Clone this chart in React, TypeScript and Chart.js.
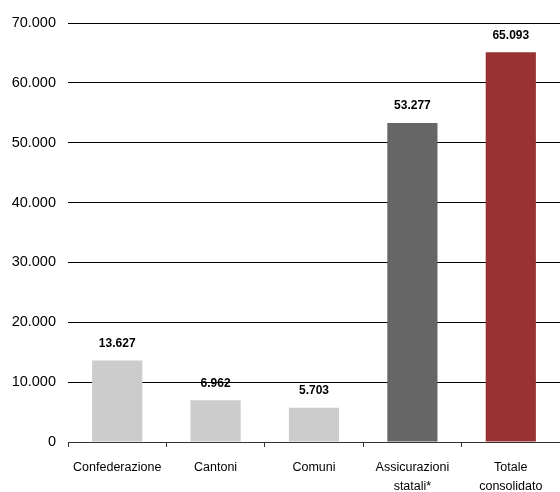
import React, { useEffect, useRef } from "react";
import { Chart, registerables } from "chart.js";

Chart.register(...registerables);

const categories: (string | string[])[] = [
  "Confederazione",
  "Cantoni",
  "Comuni",
  ["Assicurazioni", "statali*"],
  ["Totale", "consolidato"],
];
const values: number[] = [13627, 6962, 5703, 53277, 65093];
const barColors: string[] = ["#CCCCCC", "#CCCCCC", "#CCCCCC", "#666666", "#993333"];
const yMax = 70000;
const yStep = 10000;

const FONT = "'Liberation Sans', Arial, sans-serif";

const fmt = (v: number): string =>
  Math.round(v)
    .toString()
    .replace(/\B(?=(\d{3})+(?!\d))/g, ".");

const valueLabels = {
  id: "valueLabels",
  afterDatasetsDraw(chart: any) {
    const ctx = chart.ctx;
    const meta = chart.getDatasetMeta(0);
    ctx.save();
    ctx.font = `bold 12px ${FONT}`;
    ctx.fillStyle = "#000";
    ctx.textAlign = "center";
    ctx.textBaseline = "middle";
    meta.data.forEach((bar: any, i: number) => {
      ctx.fillText(fmt(values[i]), bar.x, bar.y - 17);
    });
    ctx.restore();
  },
};

export default function App() {
  const ref = useRef<HTMLCanvasElement | null>(null);
  useEffect(() => {
    if (!ref.current) return;
    const chart = new Chart(ref.current, {
      type: "bar",
      data: {
        labels: categories,
        datasets: [
          {
            data: values,
            backgroundColor: barColors,
            borderWidth: 0,
            categoryPercentage: 1,
            barPercentage: 0.51,
          },
        ],
      },
      options: {
        animation: false,
        responsive: false,
        maintainAspectRatio: false,
        layout: { padding: { top: 23, right: 0, left: 0, bottom: 0 } },
        plugins: {
          legend: { display: false },
          tooltip: { enabled: false },
        },
        scales: {
          x: {
            offset: true,
            afterFit: (s: any) => {
              s.height = 50;
            },
            grid: {
              offset: true,
              drawOnChartArea: false,
              drawTicks: true,
              tickLength: 5,
              color: "#333",
            },
            border: { display: true, color: "#333", width: 1 },
            ticks: {
              color: "#000",
              padding: 11,
              maxRotation: 0,
              autoSkip: false,
              font: { family: FONT, size: 12.5, lineHeight: 1.52 },
            },
          },
          y: {
            min: 0,
            max: yMax,
            afterFit: (s: any) => {
              s.width = 68;
            },
            grid: { color: "#000", lineWidth: 1, drawTicks: false },
            border: { display: false },
            ticks: {
              stepSize: yStep,
              color: "#000",
              padding: 12,
              font: { family: FONT, size: 14.5 },
              callback: (v: any) => fmt(Number(v)),
            },
          },
        },
      },
      plugins: [valueLabels],
    });
    return () => chart.destroy();
  }, []);
  return (
    <div style={{ position: "fixed", left: 0, top: 0, width: 560, height: 492, background: "#fff" }}>
      <canvas ref={ref} width={560} height={492} style={{ display: "block", width: 560, height: 492 }} />
    </div>
  );
}
